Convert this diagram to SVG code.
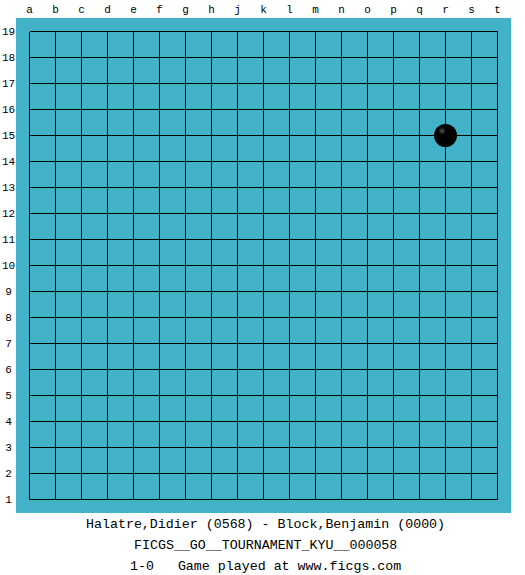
<svg xmlns="http://www.w3.org/2000/svg" width="525" height="575" viewBox="0 0 525 575">
<defs>
<style>
.lbl{font-family:"Liberation Mono","DejaVu Sans Mono",monospace;font-size:11px;fill:#000}
.ttl{font-family:"Liberation Mono","DejaVu Sans Mono",monospace;font-size:13.3px;fill:#000;white-space:pre}
.grid line{stroke:#000;stroke-width:1;shape-rendering:crispEdges}
</style>
<radialGradient id="st" cx="0.35" cy="0.3" r="0.7">
<stop offset="0" stop-color="#555"/>
<stop offset="0.25" stop-color="#000"/>
<stop offset="1" stop-color="#000"/>
</radialGradient>
</defs>
<rect width="525" height="575" fill="#fff"/>
<rect id="board" x="16" y="18" width="495" height="495" fill="#42b2c8"/>
<g id="grid" class="grid">
<line x1="29.5" y1="31.5" x2="29.5" y2="499.5"/>
<line x1="55.5" y1="31.5" x2="55.5" y2="499.5"/>
<line x1="81.5" y1="31.5" x2="81.5" y2="499.5"/>
<line x1="107.5" y1="31.5" x2="107.5" y2="499.5"/>
<line x1="133.5" y1="31.5" x2="133.5" y2="499.5"/>
<line x1="159.5" y1="31.5" x2="159.5" y2="499.5"/>
<line x1="185.5" y1="31.5" x2="185.5" y2="499.5"/>
<line x1="211.5" y1="31.5" x2="211.5" y2="499.5"/>
<line x1="237.5" y1="31.5" x2="237.5" y2="499.5"/>
<line x1="263.5" y1="31.5" x2="263.5" y2="499.5"/>
<line x1="289.5" y1="31.5" x2="289.5" y2="499.5"/>
<line x1="315.5" y1="31.5" x2="315.5" y2="499.5"/>
<line x1="341.5" y1="31.5" x2="341.5" y2="499.5"/>
<line x1="367.5" y1="31.5" x2="367.5" y2="499.5"/>
<line x1="393.5" y1="31.5" x2="393.5" y2="499.5"/>
<line x1="419.5" y1="31.5" x2="419.5" y2="499.5"/>
<line x1="445.5" y1="31.5" x2="445.5" y2="499.5"/>
<line x1="471.5" y1="31.5" x2="471.5" y2="499.5"/>
<line x1="497.5" y1="31.5" x2="497.5" y2="499.5"/>
<line x1="29.5" y1="31.5" x2="497.5" y2="31.5"/>
<line x1="29.5" y1="57.5" x2="497.5" y2="57.5"/>
<line x1="29.5" y1="83.5" x2="497.5" y2="83.5"/>
<line x1="29.5" y1="109.5" x2="497.5" y2="109.5"/>
<line x1="29.5" y1="135.5" x2="497.5" y2="135.5"/>
<line x1="29.5" y1="161.5" x2="497.5" y2="161.5"/>
<line x1="29.5" y1="187.5" x2="497.5" y2="187.5"/>
<line x1="29.5" y1="213.5" x2="497.5" y2="213.5"/>
<line x1="29.5" y1="239.5" x2="497.5" y2="239.5"/>
<line x1="29.5" y1="265.5" x2="497.5" y2="265.5"/>
<line x1="29.5" y1="291.5" x2="497.5" y2="291.5"/>
<line x1="29.5" y1="317.5" x2="497.5" y2="317.5"/>
<line x1="29.5" y1="343.5" x2="497.5" y2="343.5"/>
<line x1="29.5" y1="369.5" x2="497.5" y2="369.5"/>
<line x1="29.5" y1="395.5" x2="497.5" y2="395.5"/>
<line x1="29.5" y1="421.5" x2="497.5" y2="421.5"/>
<line x1="29.5" y1="447.5" x2="497.5" y2="447.5"/>
<line x1="29.5" y1="473.5" x2="497.5" y2="473.5"/>
<line x1="29.5" y1="499.5" x2="497.5" y2="499.5"/>
</g>
<g id="cols" class="lbl" text-anchor="middle">
<text x="29.5" y="13">a</text><text x="55.5" y="13">b</text><text x="81.5" y="13">c</text><text x="107.5" y="13">d</text><text x="133.5" y="13">e</text><text x="159.5" y="13">f</text><text x="185.5" y="13">g</text><text x="211.5" y="13">h</text><text x="237.5" y="13">j</text><text x="263.5" y="13">k</text><text x="289.5" y="13">l</text><text x="315.5" y="13">m</text><text x="341.5" y="13">n</text><text x="367.5" y="13">o</text><text x="393.5" y="13">p</text><text x="419.5" y="13">q</text><text x="445.5" y="13">r</text><text x="471.5" y="13">s</text><text x="497.5" y="13">t</text>
</g>
<g id="rows" class="lbl" text-anchor="middle">
<text x="8.5" y="35">19</text><text x="8.5" y="61">18</text><text x="8.5" y="87">17</text><text x="8.5" y="113">16</text><text x="8.5" y="139">15</text><text x="8.5" y="165">14</text><text x="8.5" y="191">13</text><text x="8.5" y="217">12</text><text x="8.5" y="243">11</text><text x="8.5" y="269">10</text><text x="8.5" y="295">9</text><text x="8.5" y="321">8</text><text x="8.5" y="347">7</text><text x="8.5" y="373">6</text><text x="8.5" y="399">5</text><text x="8.5" y="425">4</text><text x="8.5" y="451">3</text><text x="8.5" y="477">2</text><text x="8.5" y="503">1</text>
</g>
<g id="stone-r15">
<circle cx="445.5" cy="135.5" r="11.5" fill="url(#st)"/>
</g>
<g id="caption">
<text class="ttl" x="86" y="528">Halatre,Didier (0568) - Block,Benjamin (0000)</text>
<text class="ttl" x="134" y="549">FICGS__GO__TOURNAMENT_KYU__000058</text>
<text class="ttl" x="130" y="570" xml:space="preserve">1-0   Game played at www.ficgs.com</text>
</g>
</svg>
